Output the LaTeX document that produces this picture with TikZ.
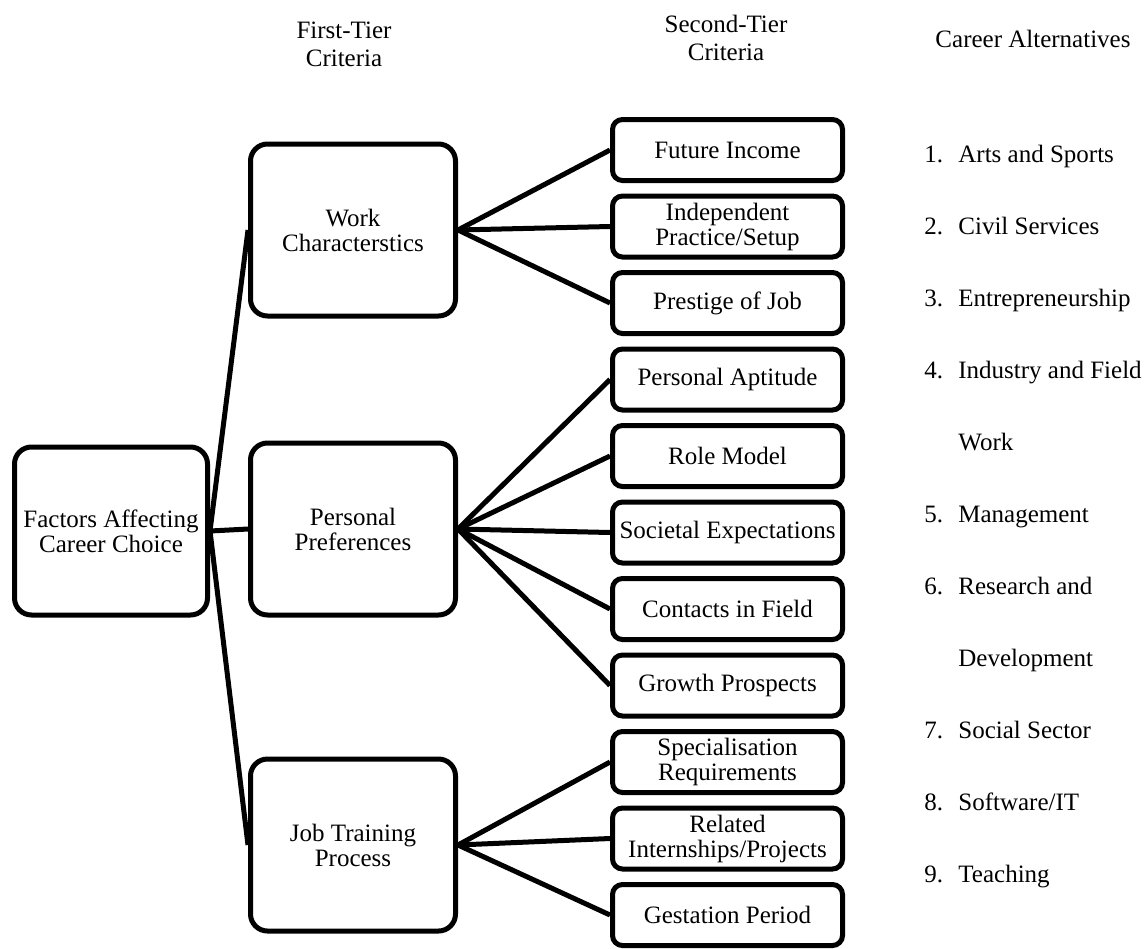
\documentclass[tikz,border=0pt]{standalone}
\usepackage{fontspec}
\setmainfont{Liberation Serif}
\usetikzlibrary{positioning}

\begin{document}
\begin{tikzpicture}[x=0.5pt, y=-0.5pt,
  box/.style={draw, line width=2.5pt, rounded corners=8.5pt, align=center, inner sep=2pt,
    font=\fontsize{12.5pt}{12.5pt}\selectfont},
  tierone/.style={box, minimum width=102.5pt, minimum height=86pt},
  tiertwo/.style={box, rounded corners=5pt, minimum width=115pt, minimum height=30.5pt},
  hdr/.style={align=center, font=\fontsize{12.5pt}{14pt}\selectfont},
  alt/.style={anchor=base west, inner sep=0pt, font=\fontsize{12.5pt}{12.5pt}\selectfont},
  link/.style={line width=2.5pt}
]
\useasboundingbox (0,0) rectangle (1145,948);
% Column headings
\node[hdr] (hone) at (344,44) {First-Tier\\Criteria};
\node[hdr] (htwo) at (726,38) {Second-Tier\\Criteria};
\node[hdr] (halt) at (1033,39) {Career Alternatives};
% Goal and first tier
\node[box, minimum width=96.5pt, minimum height=84pt] (root) at (111,531) {Factors Affecting\\Career Choice};
\node[tierone] (work) at (353,230) {Work\\Characterstics};
\node[tierone] (pref) at (353,529) {Personal\\Preferences};
\node[tierone] (train) at (353,845) {Job Training\\Process};
% Second tier
\foreach \lbl [count=\n] in {Future Income, Independent\\Practice/Setup, Prestige of Job,
    Personal Aptitude, Role Model, Societal Expectations, Contacts in Field, Growth Prospects,
    Specialisation\\Requirements, Related\\Internships/Projects, Gestation Period}
  \node[tiertwo] (s\n) at (727.5,{150+76.5*(\n-1)}) {\lbl};
% Links
\foreach \t in {work,pref,train} \draw[link] (root.east) -- (\t.west);
\foreach \t in {1,2,3} \draw[link] (work.east) -- (s\t.west);
\foreach \t in {4,...,8} \draw[link] (pref.east) -- (s\t.west);
\foreach \t in {9,10,11} \draw[link] (train.east) -- (s\t.west);
% Alternatives
\foreach \num/\txt [count=\n] in {1./Arts and Sports, 2./Civil Services, 3./Entrepreneurship,
    4./Industry and Field, /Work, 5./Management, 6./Research and, /Development,
    7./Social Sector, 8./{Software/IT}, 9./Teaching}
  \node[alt] (alt\n) at (924,{162+72*(\n-1)}) {\makebox[17pt][l]{\num}\txt};
\end{tikzpicture}
\end{document}
